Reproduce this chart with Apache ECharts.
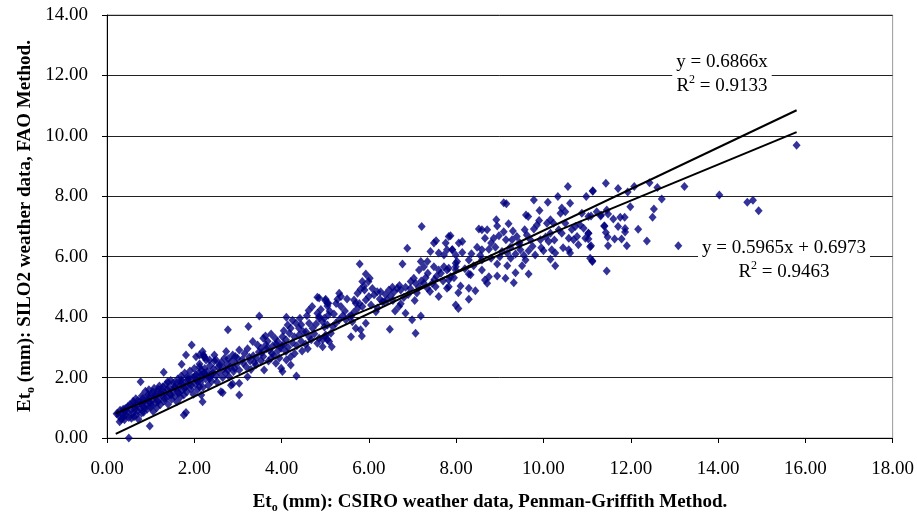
<!DOCTYPE html>
<html>
<head>
<meta charset="utf-8">
<script src="https://cdn.jsdelivr.net/npm/echarts@6/dist/echarts.min.js"></script>
<style>
  html, body { margin: 0; padding: 0; background: #fff; }
  #chart { width: 917px; height: 516px; }
</style>
</head>
<body>
<div id="chart"></div>
<script>
// Daily reference evapotranspiration: CSIRO (Penman-Griffith) vs SILO2 (FAO), mm
const pointsLow = [
  [1.94,3.08],[2.04,2.69],[2.21,2.75],[2.27,2.58],[1.71,2.44],[1.30,2.18],[0.77,1.86],[2.16,2.25],[2.23,2.14],[2.04,2.09],
  [1.85,2.03],[1.70,1.92],[1.59,1.81],[1.39,1.86],[1.28,1.70],[1.17,1.61],[1.05,1.53],[0.94,1.42],[0.82,1.31],[0.71,1.24],
  [0.59,1.15],[0.48,1.04],[0.37,0.95],[0.25,0.82],[0.40,0.60],[0.29,0.54],[0.56,0.65],[0.67,0.76],[0.79,0.82],[0.98,0.40],
  [0.50,0.00],[1.76,0.76],[1.81,0.84],[2.19,1.20],[0.86,0.98],[1.01,1.09],[1.17,1.20],[1.32,1.31],[1.47,1.42],[1.62,1.53],
  [1.78,1.65],[1.93,1.75],[2.08,1.86],[0.40,0.87],[0.63,1.04],[0.79,1.15],[0.94,1.26],[1.09,1.37],[1.24,1.48],[1.39,1.59],
  [1.55,1.70],[1.70,1.81],[1.85,1.92],[2.00,2.03],[2.16,2.09],
  [0.22,0.80],[0.28,0.72],[0.30,0.92],[0.33,0.62],[0.35,0.78],[0.38,0.70],[0.42,0.98],[0.44,0.75],[0.46,0.88],[0.50,0.68],
  [0.52,1.10],[0.55,0.92],[0.58,0.80],[0.60,1.22],[0.62,0.70],[0.64,0.95],[0.66,1.30],[0.68,1.08],[0.70,0.90],[0.72,0.62],
  [0.75,1.18],[0.76,0.98],[0.80,1.40],[0.82,1.05],[0.84,0.85],[0.86,1.22],[0.88,1.55],[0.90,1.10],[0.92,0.95],[0.95,1.35],
  [0.96,1.60],[0.98,1.18],[1.00,1.02],[1.02,1.45],[1.04,1.25],[1.06,0.88],[1.08,1.65],[1.10,1.15],[1.12,1.40],[1.14,1.00],
  [1.16,1.52],[1.18,1.28],[1.20,1.72],[1.22,1.10],[1.25,1.42],[1.27,1.60],[1.30,1.22],[1.33,1.50],[1.35,1.78],[1.37,1.35],
  [1.40,1.12],[1.42,1.68],[1.44,1.45],[1.46,1.90],[1.48,1.28],[1.50,1.58],[1.52,1.82],[1.55,1.38],[1.57,1.65],[1.60,1.20],
  [1.62,1.95],[1.64,1.48],[1.66,1.72],[1.68,1.35],[1.70,2.05],[1.72,1.58],[1.74,1.85],[1.76,1.42],[1.78,2.15],[1.80,1.70],
  [1.83,1.52],[1.86,1.96],[1.88,1.80],[1.90,2.22],[1.92,1.62],[1.95,2.00],[1.98,1.45],[2.00,2.30],[2.02,1.78],[2.05,1.92],
  [2.07,1.60],[2.10,2.15],[2.12,2.45],[2.14,1.85],[2.18,2.00],[2.20,1.68],[2.24,2.30],[2.26,1.95],[2.30,2.20],[2.32,1.75],
  [2.36,2.40],[2.38,2.10],[2.40,1.88],[2.44,2.28],[2.46,2.55],[2.50,2.05],[2.52,1.85],[2.55,2.35],[2.58,2.18],[2.62,2.50],
  [2.65,2.00],[2.68,2.30],[2.72,2.15],[2.75,2.45],[2.78,2.62],[2.82,2.35],[2.86,2.55],[2.90,2.20],[2.94,2.70],[2.97,2.45],
  [2.77,3.58],[2.88,2.75],[2.99,2.64],[2.73,2.86],[2.69,2.64],[2.46,2.75],[2.35,2.58],[2.23,2.67],[2.19,2.86],[2.12,2.75],
  [2.58,2.42],[2.77,2.25],[2.92,2.31],[2.35,1.98],[2.43,2.14],[2.23,2.14],[2.61,1.53],[2.65,1.50],[2.84,1.75],[2.12,1.70],
  [2.16,1.42],[1.81,2.75],[2.23,2.69],[2.50,2.58],[2.12,2.36],[2.80,2.03],[2.88,1.79],[2.35,2.03]
];

const pointsMid = [
  [4.82,4.66],[5.00,4.55],[5.05,4.46],[3.49,4.04],[4.11,4.00],[4.42,3.96],[4.62,4.22],[4.82,4.13],[4.86,3.96],[3.24,3.69],
  [4.14,3.74],[4.21,3.63],[4.33,3.80],[4.40,3.63],[4.50,3.52],[4.63,3.80],[4.71,3.63],[4.79,3.77],[4.94,3.85],[4.98,3.67],
  [5.05,3.74],[3.63,3.38],[3.76,3.44],[3.91,3.19],[4.02,3.35],[4.10,3.25],[4.18,3.47],[4.29,3.35],[4.40,3.41],[4.56,3.52],
  [4.63,3.35],[3.34,3.19],[3.45,3.08],[3.53,2.97],[3.64,3.08],[3.72,2.91],[3.83,2.75],[3.99,2.97],[4.10,2.86],[4.21,2.69],
  [3.03,2.91],[3.15,2.80],[3.26,2.67],[3.03,2.25],[3.19,2.36],[3.30,2.27],[3.41,2.42],[3.53,2.56],[3.60,2.25],[3.76,2.64],
  [3.87,2.47],[3.99,2.31],[4.11,2.58],[4.21,2.42],[4.34,2.05],[4.47,2.88],[4.82,3.14],[4.94,3.02],[5.00,3.35],[5.05,3.25],
  [3.03,1.81],[3.03,1.42],[3.22,2.03],[4.02,2.20],
  [3.10,2.60],[3.22,2.95],[3.35,2.72],[3.48,2.85],[3.58,2.70],[3.68,3.20],[3.80,3.05],[3.92,2.90],[4.05,3.10],[4.15,3.00],
  [4.25,3.15],[4.35,3.05],[4.45,3.20],[4.55,3.10],[4.68,3.25],[4.75,3.45],[3.38,2.50],[3.70,2.55],[3.95,2.65],[4.30,2.80],
  [4.60,2.95],
  [3.12,2.48],[3.28,2.55],[3.42,2.65],[3.55,2.82],[3.65,2.95],[3.78,2.80],[3.88,3.10],[4.00,3.05],[3.58,3.30],[3.85,3.30],
  [4.05,3.55],[4.25,3.90],[4.45,3.75],[4.58,4.05],[4.70,4.35],[4.90,4.25],[5.10,4.20],[5.25,4.45],[5.40,4.05],[5.50,4.60],
  [5.65,4.15],[5.78,4.45],[5.90,4.90],[6.08,4.95],[6.20,4.30],[6.38,4.75],[6.55,4.55],[6.70,5.05],[6.80,4.65],[6.95,4.95],
  [7.05,4.55],[7.20,5.20],[7.35,5.45],[7.50,5.25],[7.65,5.45],[7.95,5.30],
  [7.21,7.00],[7.54,6.53],[7.49,6.45],[7.87,6.69],[7.76,6.45],[6.88,6.28],[7.41,6.17],[7.60,6.12],[7.72,6.06],[7.79,6.23],
  [7.91,6.23],[7.19,5.84],[7.34,5.84],[6.77,5.76],[5.79,5.76],[7.49,5.67],[7.60,5.56],[7.72,5.67],[7.79,5.56],[7.99,5.78],
  [7.99,5.56],[7.26,5.67],[7.15,5.56],[5.93,5.43],[6.02,5.29],[5.99,5.18],[5.85,5.18],[5.89,5.03],[5.81,4.92],[5.74,4.79],
  [5.32,4.79],[5.36,4.68],[5.28,4.59],[5.01,4.59],[5.07,4.46],[4.86,4.63],[5.66,4.57],[5.70,4.46],[5.74,4.29],[5.93,4.57],
  [6.00,4.68],[6.12,4.74],[6.19,4.84],[6.27,4.84],[6.31,4.51],[6.46,4.90],[6.54,4.99],[6.58,4.84],[6.65,4.96],[6.73,4.90],
  [6.84,4.99],[6.96,5.18],[7.03,5.29],[7.07,5.12],[7.15,4.99],[7.26,5.12],[7.34,4.96],[7.45,5.12],[7.53,5.01],[7.60,4.68],
  [7.79,4.96],[7.83,5.23],[6.69,4.35],[6.73,4.44],[6.84,4.13],[6.99,3.91],[7.19,4.04],[7.07,3.47],[6.48,3.60],[6.35,4.51],
  [6.42,4.57],[6.16,4.18],[5.93,3.80],[5.81,3.58],[5.84,3.38],[5.59,3.35],[5.55,4.02],[5.47,3.91],[5.62,3.85],[5.70,3.63],
  [5.32,3.91],[5.24,3.80],[5.17,3.69],[5.13,3.47],[5.01,3.41],[5.09,3.19],[5.15,3.02],[4.94,3.25],[4.86,3.30],[4.98,3.96],
  [5.07,4.07],[4.86,4.02],[5.05,4.37],[5.36,4.35],
  [7.83,6.67],[7.91,6.23],[7.99,6.06],[7.83,5.62],[7.99,5.67],[7.99,4.40],[7.87,5.34],[7.83,5.01],
  [5.20,4.10],[5.45,4.20],[5.60,4.05],[5.85,4.35],[6.05,4.40],[6.25,4.60],[6.50,4.70],[6.60,4.20],[6.90,4.75],[7.10,4.80],
  [7.30,5.30],[7.40,4.85],[7.55,5.35],[7.70,5.20]
];

const pointsHigh = [
  [10.56,8.32],[11.13,8.18],[10.98,7.99],[10.33,7.99],[9.09,7.79],[9.15,7.75],[9.78,7.88],[10.10,7.80],[9.91,7.53],[9.60,7.38],
  [9.65,7.33],[10.42,7.61],[10.50,7.49],[10.39,7.44],[10.61,7.77],[10.88,7.44],[11.22,7.49],[10.16,7.22],[10.08,7.11],[10.23,7.11],
  [8.92,7.22],[9.20,7.09],[9.85,7.05],[9.78,6.92],[8.52,6.92],[8.59,6.89],[8.71,6.89],[8.94,7.02],[9.09,6.83],[9.57,6.89],
  [10.50,7.11],[10.73,7.00],[10.84,7.05],[10.92,6.94],[11.03,6.78],[8.14,6.50],[8.06,6.45],[8.66,6.61],[8.86,6.61],[8.98,6.69],
  [9.14,6.56],[9.28,6.56],[9.39,6.67],[9.45,6.47],[9.62,6.72],[9.70,6.56],[10.16,6.78],[9.93,6.56],[10.12,6.50],[10.35,6.89],
  [10.42,6.78],[10.58,6.61],[10.69,6.56],[10.77,6.67],[10.96,6.61],[11.07,6.33],[8.14,6.14],[8.48,6.31],[8.59,6.23],[8.75,6.25],
  [8.90,6.31],[9.05,6.17],[9.17,6.12],[9.24,6.31],[9.36,6.09],[9.47,6.23],[9.66,6.20],[9.81,6.06],[10.00,6.20],[10.19,6.23],
  [10.27,6.12],[10.61,6.12],[10.58,6.23],[11.07,5.95],[11.12,5.84],[10.16,5.92],[10.27,5.70],[9.59,5.89],[8.59,5.89],[8.29,5.89],
  [8.33,5.40],[8.02,5.84],[8.94,5.76],[9.17,5.70],[9.51,5.70],[9.36,5.47],[9.66,5.43],[8.59,5.56],[8.75,5.34],[8.66,5.23],
  [8.71,5.12],[8.94,5.36],[9.13,5.29],[9.32,5.14],[8.29,5.43],[8.10,5.03],[8.29,4.96],[8.44,4.87],[8.05,4.81],[8.29,4.59],
  [8.05,4.29],
  [8.20,5.60],[8.40,5.70],[8.55,6.05],[8.80,5.95],[9.00,6.00],[9.25,5.95],[9.45,6.40],[9.55,6.05],[9.75,6.35],[9.95,6.30],
  [10.05,6.65],[10.25,6.55],[10.45,6.30],[10.65,6.90],[10.80,6.40],[8.35,6.10],[8.80,6.45],[9.30,6.85],[9.90,7.20],
  [15.80,9.69],[11.43,8.43],[11.71,8.26],[12.08,8.32],[12.43,8.45],[11.93,8.14],[12.61,8.29],[13.23,8.32],[12.71,7.91],[14.03,8.04],
  [14.67,7.80],[14.80,7.87],[14.93,7.52],[11.45,7.55],[11.99,7.65],[12.53,7.58],[12.50,7.31],[11.60,7.25],[11.76,7.31],[11.86,7.31],
  [11.31,7.35],[11.40,7.02],[11.71,7.00],[11.87,6.93],[11.87,6.82],[11.43,6.80],[11.47,6.65],[11.63,6.59],[11.79,6.59],[12.17,6.91],
  [12.37,6.52],[11.48,6.36],[11.91,6.36],[13.09,6.36],[11.45,5.53],[11.13,8.17],[11.03,7.33],[11.09,7.35],[11.48,7.41],[11.32,7.38],
  [11.03,6.78],[11.39,7.02],[11.03,6.59],[11.09,6.36],[11.12,5.87]
];

// Fitted trendlines (as stated by the equation labels)
const fitThroughOrigin = { slope: 0.6866, intercept: 0, r2: 0.9133 };
const fitLinear = { slope: 0.5965, intercept: 0.6973, r2: 0.9463 };
const fitRange = [0.2, 15.8];

const xTicks = { min: 0, max: 18, interval: 2 };
const yTicks = { min: 0, max: 14, interval: 2 };

const allPoints = pointsLow.concat(pointsMid, pointsHigh);
const fitLine = f => fitRange.map(x => [x, f.slope * x + f.intercept]);

const SERIF = '"Liberation Serif", "Times New Roman", serif';
const chart = echarts.init(document.getElementById('chart'));

const titleRich = {
  b: { fontFamily: SERIF, fontWeight: 'bold', fontSize: 19, lineHeight: 24, color: '#000' },
  s: { fontFamily: SERIF, fontWeight: 'bold', fontSize: 12, lineHeight: 13, verticalAlign: 'bottom', color: '#000' }
};
const eqRich = {
  t: { fontFamily: SERIF, fontSize: 19, lineHeight: 24, color: '#000' },
  p: { fontFamily: SERIF, fontSize: 12, lineHeight: 13, verticalAlign: 'top', color: '#000' }
};

chart.setOption({
  animation: false,
  backgroundColor: '#fff',
  grid: { left: 107, right: 22, top: 15, bottom: 78, show: true, borderColor: '#9a9a9a', borderWidth: 1, backgroundColor: 'transparent' },
  xAxis: {
    type: 'value', min: xTicks.min, max: xTicks.max, interval: xTicks.interval,
    axisLine: { onZero: false, lineStyle: { color: '#000', width: 1 } },
    axisTick: { show: true, inside: false, length: 5, lineStyle: { color: '#000' } },
    axisLabel: { margin: 22, fontFamily: SERIF, fontSize: 19, color: '#000', formatter: v => v.toFixed(2) },
    splitLine: { show: false }
  },
  yAxis: {
    type: 'value', min: yTicks.min, max: yTicks.max, interval: yTicks.interval,
    axisLine: { show: true, onZero: false, lineStyle: { color: '#000', width: 1 } },
    axisTick: { show: true, inside: false, length: 5, lineStyle: { color: '#000' } },
    axisLabel: { margin: 19, fontFamily: SERIF, fontSize: 19, color: '#000', formatter: v => v.toFixed(2) },
    splitLine: { show: true, lineStyle: { color: '#222', width: 1 } }
  },
  series: [
    {
      type: 'scatter', data: allPoints, symbol: 'diamond', symbolSize: [8, 9],
      itemStyle: { color: '#000080' }, z: 2
    },
    {
      type: 'line', data: fitLine(fitThroughOrigin), symbol: 'none',
      lineStyle: { color: '#000', width: 2 }, z: 3
    },
    {
      type: 'line', data: fitLine(fitLinear), symbol: 'none',
      lineStyle: { color: '#000', width: 2 }, z: 3
    }
  ],
  graphic: [
    {
      type: 'text', x: 490, y: 502, z: 10,
      style: { text: '{b|Et}{s|o}{b| (mm): CSIRO weather data, Penman-Griffith Method.}', rich: titleRich, align: 'center', verticalAlign: 'middle' }
    },
    {
      type: 'text', x: 25, y: 226, rotation: Math.PI / 2, z: 10,
      style: { text: '{b|Et}{s|o}{b| (mm): SILO2 weather data, FAO Method.}', rich: titleRich, align: 'center', verticalAlign: 'middle' }
    },
    {
      type: 'text', x: 722, y: 74, z: 10,
      style: {
        text: '{t|y = ' + fitThroughOrigin.slope.toFixed(4) + 'x}\n{t|R}{p|2}{t| = ' + fitThroughOrigin.r2.toFixed(4) + '}',
        rich: eqRich, align: 'center', verticalAlign: 'middle', backgroundColor: '#fff', padding: [0, 4]
      }
    },
    {
      type: 'text', x: 784, y: 260, z: 10,
      style: {
        text: '{t|y = ' + fitLinear.slope.toFixed(4) + 'x + ' + fitLinear.intercept.toFixed(4) + '}\n{t|R}{p|2}{t| = ' + fitLinear.r2.toFixed(4) + '}',
        rich: eqRich, align: 'center', verticalAlign: 'middle', backgroundColor: '#fff', padding: [0, 4]
      }
    }
  ]
});
</script>
</body>
</html>
